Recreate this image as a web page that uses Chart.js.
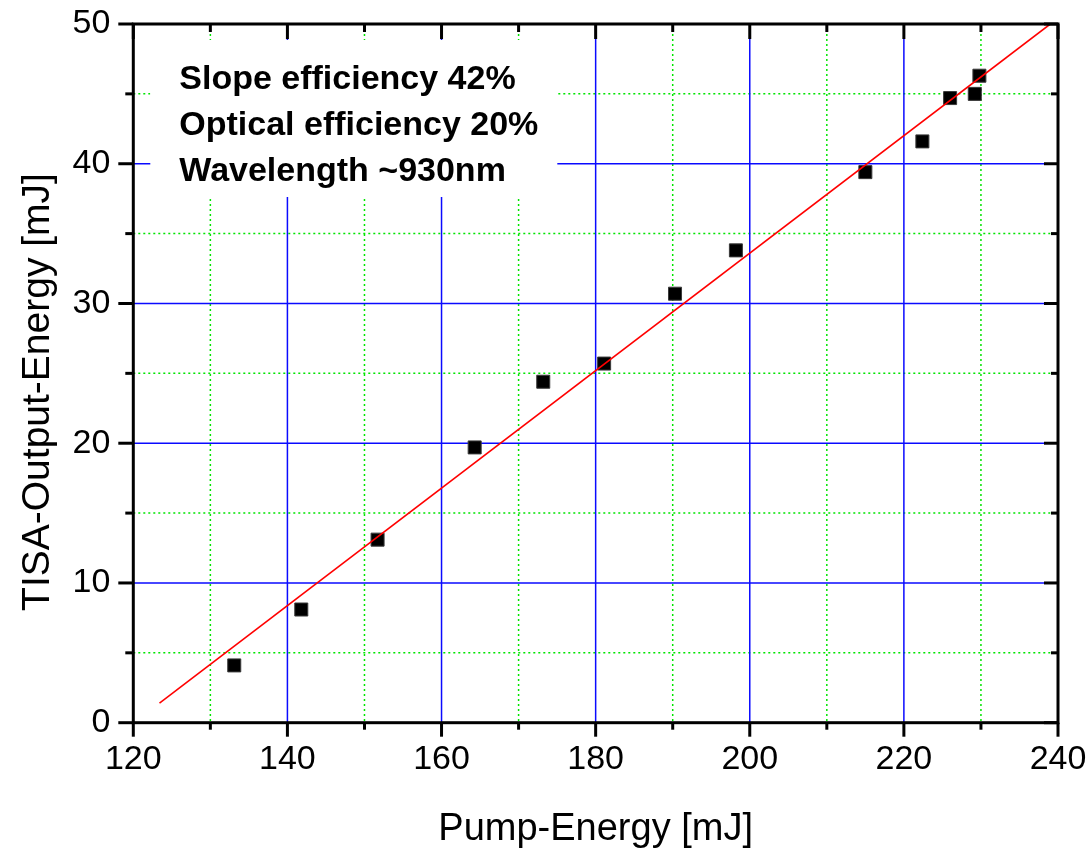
<!DOCTYPE html>
<html>
<head>
<meta charset="utf-8">
<script src="https://cdn.jsdelivr.net/npm/chart.js@4"></script>
<style>
  html, body { margin: 0; padding: 0; background: #fff; }
  canvas { display: block; }
</style>
</head>
<body>
<canvas id="tisaChart" width="1091" height="850"></canvas>
<script>
// measured pump / output energies
const pumpEnergy = [133.1, 141.8, 151.7, 164.3, 173.2, 181.1, 190.3, 198.2, 215.0, 222.4, 226.0, 229.2, 229.8];
const outputEnergy = [4.1, 8.1, 13.1, 19.7, 24.4, 25.7, 30.7, 33.8, 39.4, 41.6, 44.7, 45.0, 46.3];

// linear fit end points
const fitPump = [123.4, 239.0];
const fitOutput = [1.4, 50.0];

// axis ticks
const xTicks = [120, 140, 160, 180, 200, 220, 240];
const xMinorTicks = [130, 150, 170, 190, 210, 230];
const yTicks = [0, 10, 20, 30, 40, 50];
const yMinorTicks = [5, 15, 25, 35, 45];

const infoLines = ["Slope efficiency 42%", "Optical efficiency 20%", "Wavelength ~930nm"];
const xTitle = "Pump-Energy [mJ]";
const yTitle = "TISA-Output-Energy [mJ]";

const FONT = "'Liberation Sans', Arial, sans-serif";

// =============================
// grid, frame, ticks, texts
// =============================
const framePlugin = {
  id: "frame",
  beforeDatasetsDraw(chart) {
    const { ctx, chartArea: a, scales: { x, y } } = chart;
    ctx.save();

    // minor grid (green dots)
    ctx.strokeStyle = "#00e600";
    ctx.lineWidth = 1.5;
    ctx.setLineDash([2, 3]);
    xMinorTicks.forEach((v) => {
      const px = x.getPixelForValue(v);
      ctx.beginPath(); ctx.moveTo(px, a.top); ctx.lineTo(px, a.bottom); ctx.stroke();
    });
    yMinorTicks.forEach((v) => {
      const py = y.getPixelForValue(v);
      ctx.beginPath(); ctx.moveTo(a.left, py); ctx.lineTo(a.right, py); ctx.stroke();
    });

    // major grid (blue)
    ctx.setLineDash([]);
    ctx.strokeStyle = "#0a0aff";
    xTicks.slice(1, -1).forEach((v) => {
      const px = x.getPixelForValue(v);
      ctx.beginPath(); ctx.moveTo(px, a.top); ctx.lineTo(px, a.bottom); ctx.stroke();
    });
    yTicks.slice(1, -1).forEach((v) => {
      const py = y.getPixelForValue(v);
      ctx.beginPath(); ctx.moveTo(a.left, py); ctx.lineTo(a.right, py); ctx.stroke();
    });

    // info box
    ctx.fillStyle = "#fff";
    ctx.fillRect(a.left + 17, a.top + 16, 407, 157);
    ctx.fillStyle = "#000";
    ctx.font = "bold 34px " + FONT;
    ctx.textAlign = "left";
    ctx.textBaseline = "alphabetic";
    infoLines.forEach((t, i) => {
      ctx.fillText(t, a.left + 46, a.top + 64.5 + i * 46.3);
    });
    ctx.restore();
  },
  afterDatasetsDraw(chart) {
    const { ctx, chartArea: a, scales: { x, y } } = chart;
    ctx.save();
    ctx.strokeStyle = "#000";
    ctx.lineWidth = 3;
    ctx.strokeRect(a.left, a.top, a.right - a.left, a.bottom - a.top);

    const tick = (x0, y0, x1, y1) => {
      ctx.beginPath(); ctx.moveTo(x0, y0); ctx.lineTo(x1, y1); ctx.stroke();
    };
    xTicks.forEach((v) => {
      const px = x.getPixelForValue(v);
      tick(px, a.bottom, px, a.bottom + 14);
      tick(px, a.top, px, a.top + 15);
    });
    xMinorTicks.forEach((v) => {
      const px = x.getPixelForValue(v);
      tick(px, a.bottom, px, a.bottom + 7);
      tick(px, a.top, px, a.top + 8);
    });
    yTicks.forEach((v) => {
      const py = y.getPixelForValue(v);
      tick(a.left - 15, py, a.left, py);
      tick(a.right - 14, py, a.right, py);
    });
    yMinorTicks.forEach((v) => {
      const py = y.getPixelForValue(v);
      tick(a.left - 8, py, a.left, py);
      tick(a.right - 7, py, a.right, py);
    });

    // axis titles
    ctx.fillStyle = "#000";
    ctx.font = "38px " + FONT;
    ctx.textAlign = "center";
    ctx.textBaseline = "alphabetic";
    ctx.fillText(xTitle, (a.left + a.right) / 2, 840);

    ctx.translate(49, 392);
    ctx.rotate(-Math.PI / 2);
    ctx.font = "39px " + FONT;
    ctx.fillText(yTitle, 0, 0);
    ctx.restore();
  },
};

const tickFont = { family: FONT, size: 34 };

new Chart(document.getElementById("tisaChart"), {
  type: "scatter",
  data: {
    datasets: [
      {
        label: "fit",
        data: fitPump.map((p, i) => ({ x: p, y: fitOutput[i] })),
        showLine: true,
        borderColor: "#ff0000",
        borderWidth: 1.6,
        pointRadius: 0,
      },
      {
        label: "TISA",
        data: pumpEnergy.map((p, i) => ({ x: p, y: outputEnergy[i] })),
        pointStyle: "rect",
        pointRadius: 9.2,
        backgroundColor: "#000",
        borderColor: "#3a3a3a",
        borderWidth: 1,
      },
    ],
  },
  options: {
    responsive: false,
    devicePixelRatio: 1,
    animation: false,
    layout: { padding: { top: 24, right: 33, left: 0, bottom: 0 } },
    plugins: { legend: { display: false }, tooltip: { enabled: false } },
    scales: {
      x: {
        type: "linear",
        min: 120,
        max: 240,
        afterBuildTicks: (s) => { s.ticks = xTicks.map((v) => ({ value: v })); },
        ticks: { font: tickFont, color: "#000", padding: 17, maxRotation: 0, autoSkip: false },
        grid: { display: false, drawTicks: false },
        border: { display: false },
        afterFit: (s) => {
          s.height = 127.3;
          s.paddingLeft = 0; s.paddingRight = 0;
        },
      },
      y: {
        type: "linear",
        min: 0,
        max: 50,
        afterBuildTicks: (s) => { s.ticks = yTicks.map((v) => ({ value: v })); },
        ticks: { font: tickFont, color: "#000", padding: 23, autoSkip: false },
        grid: { display: false, drawTicks: false },
        border: { display: false },
        afterFit: (s) => {
          s.width = 133.3;
          s.paddingTop = 0; s.paddingBottom = 0;
        },
      },
    },
  },
  plugins: [framePlugin],
});
</script>
</body>
</html>
